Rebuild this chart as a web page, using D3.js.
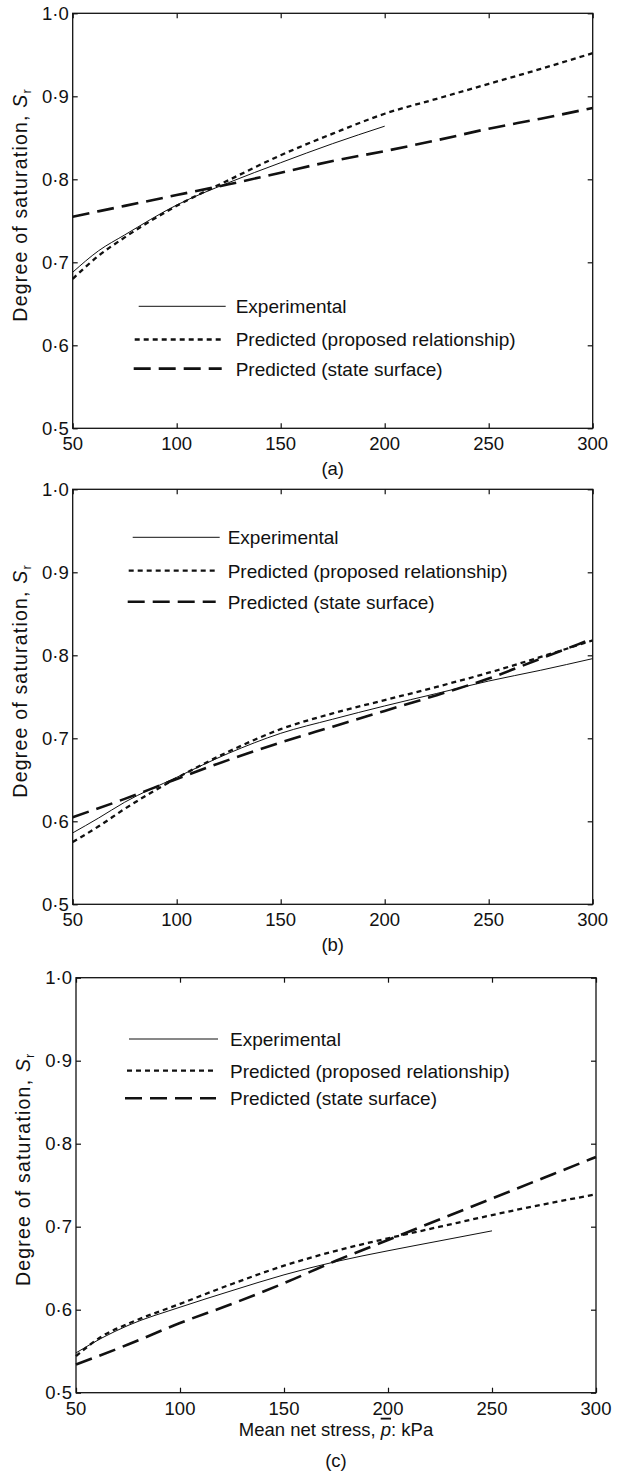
<!DOCTYPE html>
<html>
<head>
<meta charset="utf-8">
<script src="https://cdn.jsdelivr.net/npm/d3@7"></script>
<style>
  body { margin:0; background:#fff; }
  svg text { font-family: "Liberation Sans", Arial, sans-serif; fill:#111; }
</style>
</head>
<body>
<div id="chart"></div>
<script>
// tick values / labels
var xTicks = [50, 100, 150, 200, 250, 300];
var yTicks = [0.5, 0.6, 0.7, 0.8, 0.9, 1.0];
var legendNames = ["Experimental", "Predicted (proposed relationship)", "Predicted (state surface)"];
var panelTags = ["(a)", "(b)", "(c)"];

// x positions the curves were read at (kPa)
var gridX = [50, 62.5, 75, 100, 125, 150, 175, 200, 225, 250, 275, 300];
var dashX = [50, 75, 100, 125, 150, 175, 200, 225, 250, 275, 300];

// (a)
var aExp   = [0.688, 0.714, 0.733, 0.769, 0.796, 0.820, 0.843, 0.864];
var aProp  = [0.680, 0.708, 0.730, 0.768, 0.799, 0.829, 0.855, 0.879, 0.897, 0.915, 0.933, 0.952];
var aState = [0.755, 0.768, 0.781, 0.794, 0.808, 0.822, 0.834, 0.847, 0.861, 0.873, 0.886];
// (b)
var bExp   = [0.586, 0.604, 0.623, 0.653, 0.682, 0.706, 0.723, 0.739, 0.754, 0.769, 0.782, 0.796];
var bProp  = [0.575, 0.594, 0.615, 0.652, 0.684, 0.711, 0.730, 0.746, 0.762, 0.779, 0.798, 0.818];
var bState = [0.605, 0.627, 0.651, 0.674, 0.695, 0.714, 0.733, 0.752, 0.772, 0.796, 0.820];
// (c)
var cExp   = [0.548, 0.566, 0.581, 0.603, 0.623, 0.642, 0.658, 0.671, 0.683, 0.695];
var cProp  = [0.544, 0.568, 0.583, 0.607, 0.631, 0.653, 0.671, 0.686, 0.700, 0.714, 0.727, 0.739];
var cState = [0.534, 0.558, 0.584, 0.607, 0.632, 0.659, 0.684, 0.709, 0.734, 0.759, 0.784];

var W = 620, H = 1472;
var pw = 520, ph = 415;

var panels = [
  {left:72.7, top:13.3, exp:aExp, prop:aProp, state:aState,
   leg:{rows:[293, 326.2, 355.3], x0:[66,62,61], x1:[153,151,149], tx:163}},
  {left:72.7, top:489.3, exp:bExp, prop:bProp, state:bState,
   leg:{rows:[48, 81.4, 112.4], x0:[60,56,55], x1:[147,145,143], tx:155}},
  {left:76, top:977.7, exp:cExp, prop:cProp, state:cState,
   leg:{rows:[61.3, 93, 120.6], x0:[53,51,49], x1:[142,141,140], tx:154}}
];

var styles = [
  {w:1, dash:null},
  {w:2.3, dash:"5,4"},
  {w:2.6, dash:"17,8"}
];

var svg = d3.select("#chart").append("svg")
  .attr("width", W).attr("height", H);

var x = d3.scaleLinear().domain([50, 300]).range([0, pw]);
var y = d3.scaleLinear().domain([0.5, 1.0]).range([ph, 0]);
var fmt = function(d){ return d3.format(".1f")(d).replace(".", "\u00B7"); };

panels.forEach(function(p, k){
  var g = svg.append("g").attr("transform", "translate(" + p.left + "," + p.top + ")");

  // inward ticks on all four sides
  g.append("g").call(d3.axisBottom(x).tickValues(xTicks).tickSize(-5).tickFormat(""))
    .attr("transform", "translate(0," + ph + ")");
  g.append("g").call(d3.axisTop(x).tickValues(xTicks).tickSize(-5).tickFormat(""));
  g.append("g").call(d3.axisLeft(y).tickValues(yTicks).tickSize(-5).tickFormat(""));
  g.append("g").call(d3.axisRight(y).tickValues(yTicks).tickSize(-5).tickFormat(""))
    .attr("transform", "translate(" + pw + ",0)");
  g.selectAll(".domain").remove();
  g.selectAll(".tick line").attr("stroke", "#111").attr("stroke-width", 1.2);

  g.append("rect").attr("width", pw).attr("height", ph)
    .attr("fill", "none").attr("stroke", "#111").attr("stroke-width", 1.3);

  // tick labels
  g.selectAll(".xl").data(xTicks).enter().append("text")
    .attr("x", function(d){ return x(d); }).attr("y", ph + 22)
    .attr("text-anchor", "middle").attr("font-size", 18.5)
    .text(function(d){ return d; });
  g.selectAll(".yl").data(yTicks).enter().append("text")
    .attr("x", -4).attr("y", function(d){ return y(d) + 6.5; })
    .attr("text-anchor", "end").attr("font-size", 18.5)
    .text(fmt);

  // y axis title
  var yt = g.append("text")
    .attr("transform", "translate(" + (-46) + "," + (ph/2 - 16) + ") rotate(-90)")
    .attr("text-anchor", "middle").attr("font-size", 19.5)
    .attr("letter-spacing", 1.2);
  yt.append("tspan").text("Degree of saturation, ");
  yt.append("tspan").attr("font-style", "italic").text("S");
  yt.append("tspan").attr("font-size", 13).attr("dy", 4).text("r");

  // curves
  var series = [
    gridX.slice(0, p.exp.length).map(function(v, i){ return [v, p.exp[i]]; }),
    gridX.map(function(v, i){ return [v, p.prop[i]]; }),
    dashX.map(function(v, i){ return [v, p.state[i]]; })
  ];
  var line = d3.line().x(function(d){ return x(d[0]); }).y(function(d){ return y(d[1]); })
    .curve(d3.curveMonotoneX);
  series.forEach(function(s, i){
    g.append("path").datum(s).attr("d", line)
      .attr("fill", "none").attr("stroke", "#111")
      .attr("stroke-width", styles[i].w)
      .attr("stroke-dasharray", styles[i].dash);
  });

  // legend
  legendNames.forEach(function(name, i){
    var ly = p.leg.rows[i];
    g.append("line").attr("x1", p.leg.x0[i]).attr("x2", p.leg.x1[i])
      .attr("y1", ly).attr("y2", ly)
      .attr("stroke", "#111").attr("stroke-width", styles[i].w)
      .attr("stroke-dasharray", styles[i].dash);
    g.append("text").attr("x", p.leg.tx).attr("y", ly + 7)
      .attr("font-size", 19).text(name);
  });

  // x title on last panel, then panel tag
  var tagY = ph + 47;
  if (k === 2) {
    var xt = g.append("text").attr("x", pw/2).attr("y", ph + 43)
      .attr("text-anchor", "middle").attr("font-size", 18.5);
    xt.append("tspan").text("Mean net stress,  ");
    xt.append("tspan").attr("font-style", "italic")
      .style("text-decoration", "overline").text("p");
    xt.append("tspan").text(": kPa");
    tagY = ph + 74;
  }
  g.append("text").attr("x", pw/2).attr("y", tagY)
    .attr("text-anchor", "middle").attr("font-size", 18.5).text(panelTags[k]);
});
</script>
</body>
</html>
